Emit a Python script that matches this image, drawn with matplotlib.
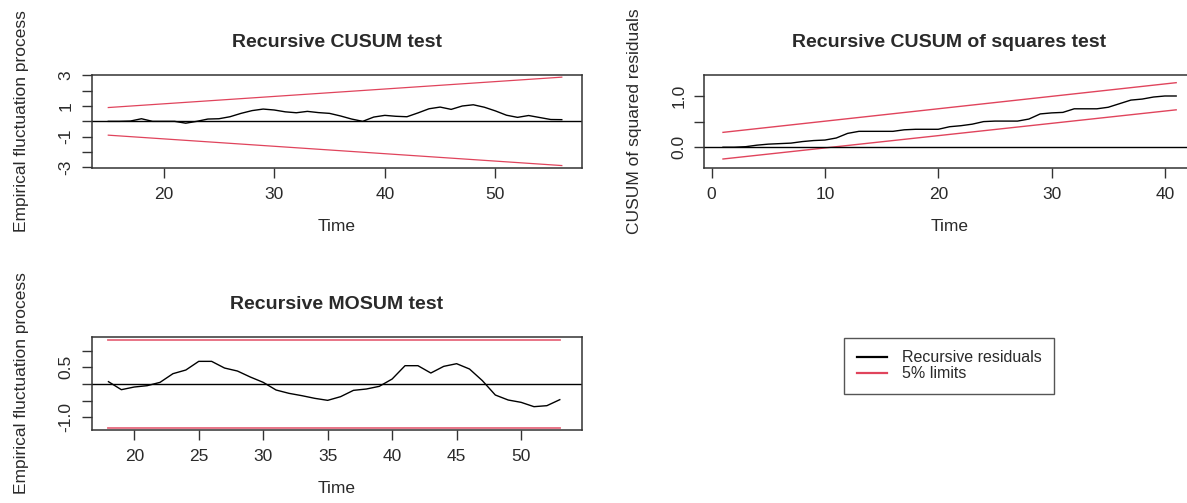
import matplotlib
matplotlib.use('Agg')
import matplotlib.pyplot as plt
from matplotlib.ticker import FixedLocator, FixedFormatter
from matplotlib.lines import Line2D

plt.rcParams['font.family'] = ['Liberation Sans', 'DejaVu Sans']

# ---------------- data ----------------
cusum_time = list(range(15, 57))
cusum_values = [0.0, 0.0, 0.02, 0.17, 0.0, 0.0, 0.0, -0.12, 0.0, 0.15,
                0.17, 0.3, 0.52, 0.7, 0.8, 0.74, 0.62, 0.56, 0.65, 0.57,
                0.52, 0.35, 0.15, 0.0, 0.28, 0.39, 0.33, 0.3, 0.55, 0.82,
                0.93, 0.78, 1.0, 1.08, 0.92, 0.68, 0.4, 0.26, 0.38, 0.25,
                0.12, 0.11]
cusum_limit_time = [15, 56]
cusum_upper = [0.9, 2.88]
cusum_lower = [-0.9, -2.88]

sq_time = list(range(1, 42))
sq_values = [0.0, 0.0, 0.01, 0.04, 0.06, 0.07, 0.08, 0.11, 0.13, 0.14,
             0.18, 0.27, 0.31, 0.31, 0.31, 0.31, 0.34, 0.35, 0.35, 0.35,
             0.4, 0.42, 0.45, 0.5, 0.51, 0.51, 0.51, 0.55, 0.65, 0.67,
             0.68, 0.75, 0.75, 0.75, 0.78, 0.85, 0.92, 0.94, 0.98, 1.0,
             1.0]
sq_limit_time = [1, 41]
sq_upper = [0.29, 1.26]
sq_lower = [-0.23, 0.73]

mosum_time = list(range(18, 54))
mosum_values = [0.07, -0.17, -0.09, -0.05, 0.05, 0.31, 0.42, 0.68, 0.68, 0.48,
                0.39, 0.21, 0.05, -0.18, -0.28, -0.35, -0.43, -0.49, -0.38, -0.19,
                -0.15, -0.07, 0.15, 0.55, 0.55, 0.33, 0.53, 0.61, 0.45, 0.1,
                -0.33, -0.48, -0.55, -0.68, -0.65, -0.47]
mosum_limit_time = [18, 53]
mosum_upper = [1.31, 1.31]
mosum_lower = [-1.32, -1.32]

titles = ["Recursive CUSUM test", "Recursive CUSUM of squares test", "Recursive MOSUM test"]
ylabels = ["Empirical fluctuation process", "CUSUM of squared residuals", "Empirical fluctuation process"]
xlabel = "Time"

cusum_xticks = [20, 30, 40, 50]
cusum_yticks = [-3, -2, -1, 0, 1, 2, 3]
cusum_ylabels = ["-3", "", "-1", "", "1", "", "3"]
sq_xticks = [0, 10, 20, 30, 40]
sq_yticks = [0.0, 0.5, 1.0]
sq_ylabels = ["0.0", "", "1.0"]
mosum_xticks = [20, 25, 30, 35, 40, 45, 50]
mosum_yticks = [-1.0, -0.5, 0.0, 0.5, 1.0]
mosum_ylabels = ["-1.0", "", "", "0.5", ""]

legend_labels = ["Recursive residuals", "5% limits"]

# ---------------- style ----------------
RED = '#E0445C'
TXT = '#2a2a2a'
W, H = 1187, 503
fig = plt.figure(figsize=(W / 100, H / 100), dpi=100)
fig.patch.set_facecolor('white')


def ax_at(l, t, w, h):
    return fig.add_axes([l / W, 1 - (t + h) / H, w / W, h / H])


def style(ax, title, ylab, xticks, yticks, ylabs):
    for s in ax.spines.values():
        s.set_color('#333333')
        s.set_linewidth(1.1)
    ax.xaxis.set_major_locator(FixedLocator(xticks))
    ax.yaxis.set_major_locator(FixedLocator(yticks))
    ax.yaxis.set_major_formatter(FixedFormatter(ylabs))
    ax.tick_params(axis='both', length=7, width=1.0, color='#333333',
                   labelsize=12.5, labelcolor=TXT)
    ax.tick_params(axis='x', pad=7)
    ax.tick_params(axis='y', pad=6)
    for lab in ax.get_yticklabels():
        lab.set_rotation(90)
        lab.set_va('center')
    ax.set_title(title, fontsize=14, fontweight='bold', color=TXT, pad=20)
    ax.set_xlabel(xlabel, fontsize=12.5, color=TXT, labelpad=12)
    ax.set_ylabel(ylab, fontsize=12.5, color=TXT, labelpad=21)


# Panel 1: CUSUM
ax1 = ax_at(91.7, 75, 490, 92.7)
ax1.plot(cusum_time, cusum_values, color='black', lw=1.0)
ax1.plot(cusum_limit_time, cusum_upper, color=RED, lw=0.9)
ax1.plot(cusum_limit_time, cusum_lower, color=RED, lw=0.9)
ax1.axhline(0, color='black', lw=1.0)
ax1.set_xlim(13.5, 57.8)
ax1.set_ylim(-3.02, 3.02)
style(ax1, titles[0], ylabels[0], cusum_xticks, cusum_yticks, cusum_ylabels)

# Panel 2: CUSUM of squares
ax2 = ax_at(704.3, 75, 490, 92.7)
ax2.plot(sq_time, sq_values, color='black', lw=1.0)
ax2.plot(sq_limit_time, sq_upper, color=RED, lw=1.0)
ax2.plot(sq_limit_time, sq_lower, color=RED, lw=1.0)
ax2.axhline(0, color='black', lw=1.0)
ax2.set_xlim(-0.65, 42.6)
ax2.set_ylim(-0.40, 1.41)
style(ax2, titles[1], ylabels[1], sq_xticks, sq_yticks, sq_ylabels)

# Panel 3: MOSUM
ax3 = ax_at(91.7, 336.7, 490, 93.3)
ax3.plot(mosum_time, mosum_values, color='black', lw=1.0)
ax3.plot(mosum_limit_time, mosum_upper, color=RED, lw=1.3, alpha=0.8)
ax3.plot(mosum_limit_time, mosum_lower, color=RED, lw=1.3, alpha=0.8)
ax3.axhline(0, color='black', lw=1.0)
ax3.set_xlim(16.7, 54.7)
ax3.set_ylim(-1.38, 1.42)
style(ax3, titles[2], ylabels[2], mosum_xticks, mosum_yticks, mosum_ylabels)

# Legend
handles = [Line2D([], [], color='black', lw=1.6),
           Line2D([], [], color=RED, lw=1.6)]
leg = fig.legend(handles, legend_labels, loc='upper left',
                 bbox_to_anchor=(844 / W, 1 - 337.7 / H), borderaxespad=0,
                 fontsize=11.5, frameon=True, fancybox=False,
                 edgecolor='#555555', framealpha=1, labelspacing=0.05,
                 handlelength=1.9, handletextpad=0.9, borderpad=0.8)
leg.get_frame().set_linewidth(1.0)
for t in leg.get_texts():
    t.set_color(TXT)

fig.savefig('out.png', dpi=100, facecolor='white')
